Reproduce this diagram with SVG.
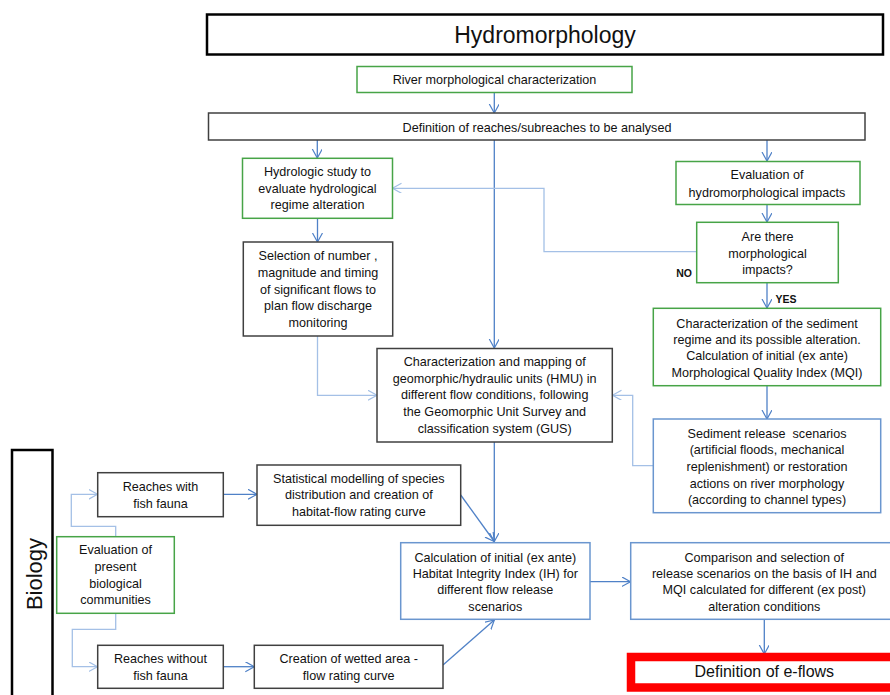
<svg xmlns="http://www.w3.org/2000/svg" width="890" height="695" viewBox="0 0 890 695">
<style>
.t{font-family:"Liberation Sans",Arial,sans-serif;font-size:12.6px;fill:#111;text-anchor:middle}
.b{font-family:"Liberation Sans",Arial,sans-serif;font-size:10.5px;font-weight:bold;fill:#111;text-anchor:middle}
.bk{fill:#fff;stroke:#404040;stroke-width:1.5}
.gr{fill:#fff;stroke:#47a447;stroke-width:1.5}
.bl{fill:#fff;stroke:#6a96cf;stroke-width:1.5}
.c{fill:none;stroke:#4f81c7;stroke-width:1.3;marker-end:url(#ad)}
.cl{fill:none;stroke:#a4c0e6;stroke-width:1.3;marker-end:url(#al)}
</style>
<defs>
<marker id="ad" markerUnits="userSpaceOnUse" markerWidth="12" markerHeight="12" refX="9" refY="5" orient="auto"><path d="M0,0 L9,5 L0,10" fill="none" stroke="#4f81c7" stroke-width="1.2"/></marker>
<marker id="al" markerUnits="userSpaceOnUse" markerWidth="12" markerHeight="12" refX="9" refY="5" orient="auto"><path d="M0,0 L9,5 L0,10" fill="none" stroke="#a4c0e6" stroke-width="1.2"/></marker>
</defs>
<rect width="890" height="695" fill="#fff"/>

<g id="connectors">
<path class="c" d="M494.3,92.7 V113"/>
<path class="c" d="M317.3,140 V158"/>
<path class="c" d="M767,140 V161"/>
<path class="c" d="M494.3,140 V348"/>
<path class="c" d="M317.5,218.3 V242"/>
<path class="cl" d="M317.5,336 V395.3 H377"/>
<path class="c" d="M767,204.3 V222"/>
<path class="cl" d="M696.7,251.7 H544 V188.3 H392.5"/>
<path class="c" d="M767,282.7 V308"/>
<path class="c" d="M767,385.7 V419"/>
<path class="cl" d="M653,465.7 H632.7 V395.3 H612.5"/>
<path class="c" d="M494.3,442 V541.5"/>
<path class="c" d="M460.7,495 L494.3,541.5"/>
<path class="c" d="M443,665 L494.3,620"/>
<path class="c" d="M590,581.7 H630.5"/>
<path class="c" d="M764.3,619.3 V654"/>
<path class="cl" d="M115.7,536.7 V526.3 H71.3 V494.3 H97.5"/>
<path class="cl" d="M115.7,613.3 V629.3 H72.3 V666.7 H97.5"/>
<path class="c" d="M223.3,494.3 H257"/>
<path class="c" d="M223.3,666.7 H254.3"/>
</g>

<g id="hydromorphology">
<rect x="207" y="14.5" width="676" height="40" fill="#fff" stroke="#000" stroke-width="2.5"/>
<text class="t" x="545" y="43" style="font-size:23px">Hydromorphology</text>
</g>

<g id="river-morph">
<rect class="gr" x="357" y="66.5" width="275" height="26"/>
<text class="t" x="494.5" y="84.3">River morphological characterization</text>
</g>

<g id="reaches">
<rect class="bk" x="208.5" y="113" width="656.5" height="27"/>
<text class="t" x="537" y="131.6">Definition of reaches/subreaches to be analysed</text>
</g>

<g id="hydrologic">
<rect class="gr" x="242.5" y="158.3" width="150" height="60"/>
<text class="t" x="317.5" y="176">Hydrologic study to</text>
<text class="t" x="317.5" y="192.6">evaluate hydrological</text>
<text class="t" x="317.5" y="209.3">regime alteration</text>
</g>

<g id="selection">
<rect class="bk" x="243.3" y="242" width="149.4" height="94"/>
<text class="t" x="318" y="260.3">Selection of number ,</text>
<text class="t" x="318" y="277">magnitude and timing</text>
<text class="t" x="318" y="293.6">of significant flows to</text>
<text class="t" x="318" y="310.3">plan flow discharge</text>
<text class="t" x="318" y="327">monitoring</text>
</g>

<g id="hmu">
<rect class="bk" x="377" y="348.5" width="235.3" height="93.5"/>
<text class="t" x="494.7" y="366">Characterization and mapping of</text>
<text class="t" x="494.7" y="382.6">geomorphic/hydraulic units (HMU) in</text>
<text class="t" x="494.7" y="399.3">different flow conditions, following</text>
<text class="t" x="494.7" y="416">the Geomorphic Unit Survey and</text>
<text class="t" x="494.7" y="432.6">classification system (GUS)</text>
</g>

<g id="eval-hydro">
<rect class="gr" x="676" y="161.5" width="184" height="43"/>
<text class="t" x="767" y="179.3">Evaluation of</text>
<text class="t" x="767" y="196.6">hydromorphological impacts</text>
</g>

<g id="are-there">
<rect class="gr" x="696.7" y="222.3" width="141.6" height="60.4"/>
<text class="t" x="767.5" y="241">Are there</text>
<text class="t" x="767.5" y="257.6">morphological</text>
<text class="t" x="767.5" y="274.3">impacts?</text>
<text class="b" x="684" y="277">NO</text>
<text class="b" x="786" y="303">YES</text>
</g>

<g id="sediment-char">
<rect class="gr" x="653.3" y="308.3" width="227.4" height="77.4"/>
<text class="t" x="767" y="327.6">Characterization of the sediment</text>
<text class="t" x="767" y="344.3">regime and its possible alteration.</text>
<text class="t" x="767" y="360.3">Calculation of initial (ex ante)</text>
<text class="t" x="767" y="376.6">Morphological Quality Index (MQI)</text>
</g>

<g id="sediment-release">
<rect class="bl" x="653.3" y="419" width="227.4" height="93.7"/>
<text class="t" x="767" y="437.6" style="white-space:pre">Sediment release  scenarios</text>
<text class="t" x="767" y="454.3">(artificial floods, mechanical</text>
<text class="t" x="767" y="471">replenishment) or restoration</text>
<text class="t" x="767" y="487.6">actions on river morphology</text>
<text class="t" x="767" y="504.3">(according to channel types)</text>
</g>

<g id="biology">
<rect x="12" y="450" width="40.5" height="260" fill="#fff" stroke="#000" stroke-width="2.5"/>
<text class="t" x="0" y="0" style="font-size:22px" transform="translate(42,574) rotate(-90)">Biology</text>
</g>

<g id="reaches-with">
<rect class="bk" x="97.7" y="472.7" width="125.6" height="44"/>
<text class="t" x="160.5" y="491">Reaches with</text>
<text class="t" x="160.5" y="507.6">fish fauna</text>
</g>

<g id="eval-bio">
<rect class="gr" x="56.7" y="536.7" width="117.6" height="76.6"/>
<text class="t" x="115.5" y="554.3">Evaluation of</text>
<text class="t" x="115.5" y="571">present</text>
<text class="t" x="115.5" y="587.6">biological</text>
<text class="t" x="115.5" y="604.3">communities</text>
</g>

<g id="reaches-without">
<rect class="bk" x="97.7" y="645.3" width="125.6" height="43"/>
<text class="t" x="160.5" y="663">Reaches without</text>
<text class="t" x="160.5" y="679.6">fish fauna</text>
</g>

<g id="statistical">
<rect class="bk" x="257" y="465" width="203.7" height="60.3"/>
<text class="t" x="358.8" y="482.6">Statistical modelling of species</text>
<text class="t" x="358.8" y="499.3">distribution and creation of</text>
<text class="t" x="358.8" y="516">habitat-flow rating curve</text>
</g>

<g id="creation">
<rect class="bk" x="254.3" y="645.3" width="188.7" height="43"/>
<text class="t" x="348.7" y="663">Creation of wetted area -</text>
<text class="t" x="348.7" y="679.6">flow rating curve</text>
</g>

<g id="ih">
<rect class="bl" x="400.7" y="542.7" width="189.3" height="76.6"/>
<text class="t" x="495.3" y="561.6">Calculation of initial (ex ante)</text>
<text class="t" x="495.3" y="577.6">Habitat Integrity Index (IH) for</text>
<text class="t" x="495.3" y="594.3">different flow release</text>
<text class="t" x="495.3" y="611">scenarios</text>
</g>

<g id="comparison">
<rect class="bl" x="630.7" y="542.7" width="268" height="76.6"/>
<text class="t" x="764.3" y="561.6">Comparison and selection of</text>
<text class="t" x="764.3" y="577.6">release scenarios on the basis of IH and</text>
<text class="t" x="764.3" y="594.3">MQI calculated for different (ex post)</text>
<text class="t" x="764.3" y="611">alteration conditions</text>
</g>

<g id="eflows">
<rect x="631" y="657" width="270" height="30.5" fill="#fff" stroke="#ff0000" stroke-width="8.5"/>
<text class="t" x="764.3" y="677" style="font-size:16px">Definition of e-flows</text>
</g>
</svg>
